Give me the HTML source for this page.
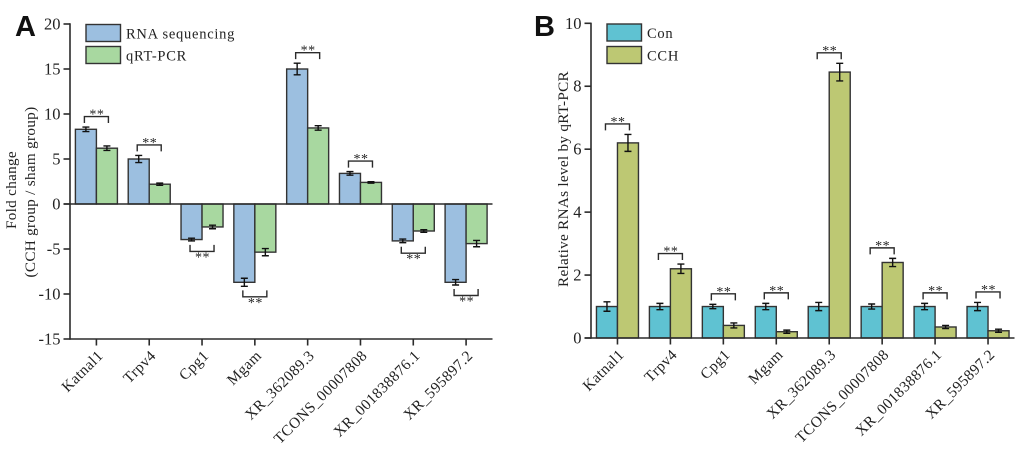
<!DOCTYPE html>
<html>
<head>
<meta charset="utf-8">
<style>
html,body{margin:0;padding:0;background:#fff;width:1020px;height:450px;overflow:hidden}
svg{display:block}
text{font-family:"Liberation Serif",serif;fill:#222}
</style>
</head>
<body>
<svg id="fig" width="1020" height="450" viewBox="0 0 1020 450" xmlns="http://www.w3.org/2000/svg"></svg>
<script>
const categories = ['Katnal1','Trpv4','Cpg1','Mgam','XR_362089.3','TCONS_00007808','XR_001838876.1','XR_595897.2'];

const rnaSeqValues = [8.3,5.0,-3.95,-8.7,15.0,3.4,-4.1,-8.7];
const rnaSeqErrors = [0.25,0.4,0.15,0.45,0.65,0.2,0.2,0.3];
const qrtPcrValues = [6.2,2.2,-2.55,-5.35,8.45,2.4,-3.0,-4.4];
const qrtPcrErrors = [0.25,0.12,0.2,0.4,0.25,0.08,0.15,0.35];
const foldTicks = [20,15,10,5,0,-5,-10,-15];
const foldMarks = ['**','**','**','**','**','**','**','**'];

const conValues = [1,1,1,1,1,1,1,1];
const conErrors = [0.15,0.1,0.07,0.1,0.13,0.08,0.1,0.13];
const cchValues = [6.2,2.2,0.4,0.2,8.45,2.4,0.35,0.23];
const cchErrors = [0.27,0.15,0.08,0.05,0.28,0.13,0.05,0.05];
const relTicks = [10,8,6,4,2,0];
const relMarks = ['**','**','**','**','**','**','**','**'];

const NS = 'http://www.w3.org/2000/svg';
const fig = document.getElementById('fig');
const INK = '#2b2b2b';

function el(parent, tag, attrs, txt) {
  const e = document.createElementNS(NS, tag);
  for (const k in attrs) e.setAttribute(k, attrs[k]);
  if (txt !== undefined) e.textContent = txt;
  parent.appendChild(e);
  return e;
}

function drawPanel(cfg) {
  const g = el(fig, 'g', {});
  
  
  const y = v => cfg.y0 - v * cfg.unit;
  const band = (cfg.xEnd - cfg.x0) / categories.length;
  const cx = i => cfg.x0 + band * (i + 0.5);
  const bw = 21;
  const bottom = y(cfg.min);

  // bars + errors
  categories.forEach((c, i) => {
    [[cfg.a, cfg.aErr, cfg.colA, -1], [cfg.b, cfg.bErr, cfg.colB, 0]].forEach(s => {
      const v = s[0][i], er = s[1][i], x = cx(i) + s[3] * bw;
      const yv = y(v), top = Math.min(yv, y(0)), h = Math.abs(yv - y(0));
      const bar = el(g, 'rect', {x: x, y: top, width: bw, height: h, fill: s[2], stroke: '#333', 'stroke-width': 1.4});
      
      
      const mid = x + bw / 2;
      const d = `M${mid} ${y(v + er)}V${y(v - er)}M${mid - 3.5} ${y(v + er)}h7M${mid - 3.5} ${y(v - er)}h7`;
      const eb = el(g, 'path', {d: d, fill: 'none', stroke: '#111', 'stroke-width': 1.4});
      
      
    });
  });

  // significance brackets
  categories.forEach((c, i) => {
    const l = cx(i) - 12, r = cx(i) + 12;
    const a = cfg.a[i], b = cfg.b[i], ae = cfg.aErr[i], be = cfg.bErr[i];
    const neg = a < 0;
    let d, ty;
    if (neg) {
      const low = y(Math.min(a - ae, b - be)) + 4;
      d = `M${l} ${low}v6.5H${r}V${low}`;
      ty = low + 16.5;
    } else {
      const high = y(Math.max(a + ae, b + be)) - 4;
      d = `M${l} ${high}v-6.5H${r}V${high}`;
      ty = high - 4.5;
    }
    const br = el(g, 'path', {d: d, fill: 'none', stroke: '#2b2b2b', 'stroke-width': 1.4});
    
    
    const st = el(g, 'text', {x: cx(i) + 0.5, y: ty, 'text-anchor': 'middle', 'font-size': 14, 'letter-spacing': '0.5'}, cfg.marks[i]);
    
    
  });

  // axes
  const yAxis = el(g, 'line', {x1: cfg.x0, x2: cfg.x0, y1: y(cfg.ticks[0]) - 0.7, y2: bottom + 0.7, stroke: INK, 'stroke-width': 1.6});
  
  
  const zero = el(g, 'line', {x1: cfg.x0 - 6.5, x2: cfg.xEnd, y1: y(0), y2: y(0), stroke: INK, 'stroke-width': 1.6});
  
  
  if (cfg.min < 0) {
    const xAxis = el(g, 'line', {x1: cfg.x0, x2: cfg.xEnd, y1: bottom, y2: bottom, stroke: INK, 'stroke-width': 1.6});
    
    
  }
  cfg.ticks.forEach(t => {
    const tk = el(g, 'line', {x1: cfg.x0 - 6.5, x2: cfg.x0, y1: y(t), y2: y(t), stroke: INK, 'stroke-width': 1.6});
    
    
    const lb = el(g, 'text', {x: cfg.x0 - 9.5, y: y(t) + 5.5, 'text-anchor': 'end', 'font-size': 16.5}, String(t));
    
    
  });
  categories.forEach((c, i) => {
    const tk = el(g, 'line', {x1: cx(i), x2: cx(i), y1: bottom, y2: bottom + 6.5, stroke: INK, 'stroke-width': 1.6});
    
    
    const tx = cx(i) + 7.5, ty = bottom + 17.5;
    const lb = el(g, 'text', {x: tx, y: ty, 'text-anchor': 'end', 'font-size': 15.3, 'letter-spacing': '0.4', transform: `rotate(-45 ${tx} ${ty})`}, c);
    
    
  });

  // y title
  cfg.title.forEach(t => {
    const ti = el(g, 'text', {x: t[0], y: t[1], 'text-anchor': 'middle', 'font-size': 15.2, 'letter-spacing': '0.3', transform: `rotate(-90 ${t[0]} ${t[1]})`}, t[2]);
    
    
  });

  // legend
  cfg.legend.forEach(l => {
    const sw = el(g, 'rect', {x: l[0], y: l[1], width: 34.5, height: 17, fill: l[2], stroke: '#333', 'stroke-width': 1.4});
    
    
    const tx = el(g, 'text', {x: l[0] + 40, y: l[1] + 14, 'font-size': 14.5, 'letter-spacing': '0.75'}, l[3]);
    
    
  });

  // panel letter
  const pl = el(g, 'text', {x: cfg.letter[0], y: cfg.letter[1], 'font-size': 29, 'font-weight': 'bold', style: 'font-family:"Liberation Sans",sans-serif;fill:#111'}, cfg.letter[2]);
  
  
}

drawPanel({
  name: 'panel-a', x0: 70, xEnd: 492.5, y0: 204, unit: 9, min: -15,
  a: rnaSeqValues, aErr: rnaSeqErrors, b: qrtPcrValues, bErr: qrtPcrErrors,
  colA: '#9cbfe0', colB: '#a8d8a0', ticks: foldTicks, marks: foldMarks,
  title: [[16, 190, 'Fold change'], [35, 192, '(CCH group / sham group)']],
  legend: [[86, 24.5, '#9cbfe0', 'RNA sequencing'], [86, 46.5, '#a8d8a0', 'qRT-PCR']],
  letter: [15, 36, 'A']
});
drawPanel({
  name: 'panel-b', x0: 591, xEnd: 1014.5, y0: 338, unit: 31.47, min: 0,
  a: conValues, aErr: conErrors, b: cchValues, bErr: cchErrors,
  colA: '#5fc2d2', colB: '#bdc873', ticks: relTicks, marks: relMarks,
  title: [[568, 179, 'Relative RNAs level by qRT-PCR']],
  legend: [[607, 24, '#5fc2d2', 'Con'], [607, 46.5, '#bdc873', 'CCH']],
  letter: [534, 36, 'B']
});
</script>
</body>
</html>
